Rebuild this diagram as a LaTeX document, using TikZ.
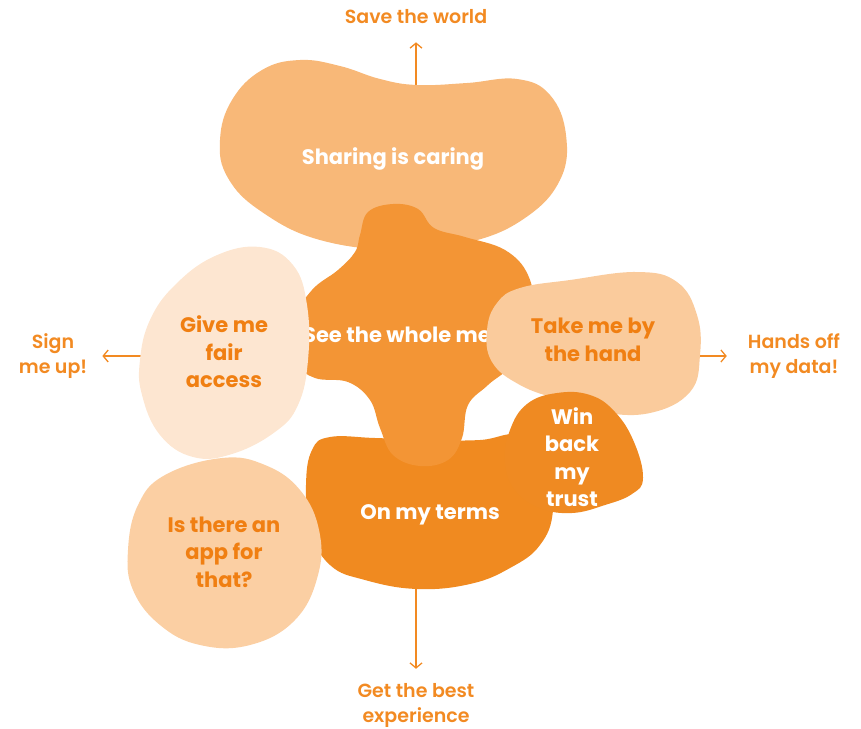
\documentclass[tikz,border=0pt]{standalone}
\usepackage{fontspec}
\setmainfont{Poppins}
\newfontfamily\medfont{Poppins SemiBold}
\usetikzlibrary{arrows.meta}
\definecolor{shareorange}{HTML}{F8B878}
\definecolor{seeorange}{HTML}{F39535}
\definecolor{termsorange}{HTML}{F08A20}
\definecolor{trustorange}{HTML}{EF8A22}
\definecolor{fairpeach}{HTML}{FDE6D1}
\definecolor{apppeach}{HTML}{FBCFA3}
\definecolor{handpeach}{HTML}{FACB9C}
\definecolor{textorange}{HTML}{F07F12}
\definecolor{labelorange}{HTML}{F28A22}

\begin{document}
\begin{tikzpicture}[
    x=1pt, y=-1pt,
    blobtext/.style={align=center, inner sep=0pt, font=\fontsize{21}{27.5}\selectfont\bfseries},
    outlabel/.style={align=center, inner sep=0pt, text=labelorange, font=\medfont\fontsize{19}{25}\selectfont},
    axis/.style={-{Straight Barb[length=5pt,width=12pt]}, line width=1.3pt, draw=labelorange}
  ]
  \useasboundingbox (0,0) rectangle (861,728);

  % Outer labels
  \node[outlabel] (world) at (416,17) {Save the world};
  \node[outlabel] (signup) at (53,356) {Sign\\me up!};
  \node[outlabel] (handsoff) at (794,356) {Hands off\\my data!};
  \node[outlabel] (best) at (416,705) {Get the best\\experience};

  % Axes, drawn first so the blobs cover them
  \coordinate (share-top) at (416,100);
  \coordinate (fair-left) at (150,356);
  \coordinate (hand-right) at (690,356);
  \coordinate (terms-bottom) at (416,575);
  \draw[axis, shorten >=18pt] (share-top) -- (world);
  \draw[axis, shorten >=15pt] (fair-left) -- (signup);
  \draw[axis, shorten >=21pt] (hand-right) -- (handsoff);
  \draw[axis, shorten >=14pt] (terms-bottom) -- (best);

  % Sharing is caring
  \fill[shareorange] plot[smooth cycle, tension=0.7] coordinates {
    (220,140) (232,100) (262,70) (300,60) (340,66) (380,79) (417,85) (467,83)
    (517,79) (550,95) (566,135) (560,180) (525,218) (470,242) (400,250)
    (320,240) (262,212) (228,178)};
  \node[blobtext, text=white] (share) at (393,159) {Sharing is caring};

  % On my terms
  \fill[termsorange] plot[smooth cycle, tension=0.7] coordinates {
    (330,437) (375,438) (430,440) (480,440) (520,435) (548,460) (553,510)
    (540,545) (510,568) (470,584) (417,589) (365,580) (330,565) (310,530)
    (306,485) (312,450)};
  \node[blobtext, text=white] (terms) at (430,515) {On my terms};

  % See the whole me
  \fill[seeorange] plot[smooth cycle, tension=0.65] coordinates {
    (360,235) (368,212) (393,204) (418,209) (434,228) (465,237) (505,250)
    (528,275) (532,310) (515,360) (488,385) (468,405) (462,438) (448,460)
    (420,466) (393,455) (380,428) (370,400) (348,382) (315,378) (298,362)
    (295,320) (312,290) (338,270) (355,252)};
  \node[blobtext, text=white] (see) at (397,335) {See the whole me};

  % Give me fair access
  \fill[fairpeach] plot[smooth cycle, tension=0.7] coordinates {
    (260,247) (293,265) (307,305) (308,360) (298,405) (275,432) (232,454)
    (193,457) (160,435) (142,395) (140,360) (150,320) (175,285) (215,256)};
  \node[blobtext, text=textorange] (fair) at (224,352) {Give me\\fair\\access};

  % Is there an app for that?
  \fill[apppeach] plot[smooth cycle, tension=0.7] coordinates {
    (222,458) (265,465) (300,490) (319,530) (318,575) (295,620) (250,645)
    (200,645) (160,625) (133,590) (128,550) (138,505) (165,475)};
  \node[blobtext, text=textorange] (app) at (224,552) {Is there an\\app for\\that?};

  % Take me by the hand
  \fill[handpeach] plot[smooth cycle, tension=0.7] coordinates {
    (487,330) (497,303) (520,288) (570,280) (637,272) (677,282) (697,315)
    (700,355) (690,392) (650,413) (600,412) (560,400) (520,385) (492,362)};
  \node[blobtext, text=textorange] (hand) at (593,340) {Take me by\\the hand};

  % Win back my trust
  \fill[trustorange] plot[smooth cycle, tension=0.7] coordinates {
    (557,393) (590,395) (615,412) (634,442) (643,478) (632,494) (605,505)
    (572,513) (540,508) (515,490) (505,462) (510,430) (527,404)};
  \node[blobtext, text=white] (trust) at (572,457) {Win\\back\\my\\trust};
\end{tikzpicture}
\end{document}
